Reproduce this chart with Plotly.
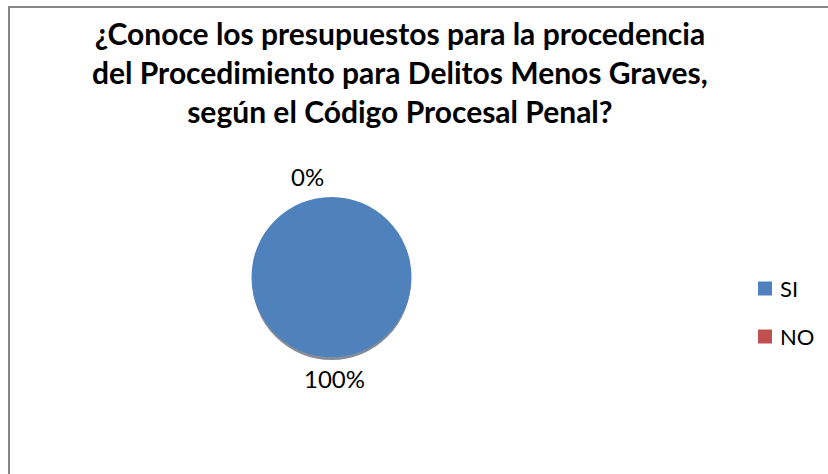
import math
import plotly.graph_objects as go

W, H = 828, 474

title_lines = [
    "¿Conoce los presupuestos para la procedencia",
    "del Procedimiento para Delitos Menos Graves,",
    "según el Código Procesal Penal?",
]
labels = ["SI", "NO"]
values = [100, 0]
colors = ["#4F81BD", "#C0504D"]

FONT = "Lato"

# pie geometry in pixels
cx, cy, r = 331.5, 277, 80


def px(x):
    return x / W


def py(y):
    return 1 - y / H


fig = go.Figure(go.Pie(
    labels=labels,
    values=values,
    marker=dict(colors=colors),
    sort=False,
    direction="clockwise",
    rotation=0,
    textinfo="none",
    hoverinfo="label+percent",
    showlegend=False,
    domain=dict(x=[px(cx - r), px(cx + r)], y=[py(cy + r), py(cy - r)]),
))

# percentage labels outside the pie, at each slice's mid angle
total = sum(values)
cum = 0
annotations = []
for v in values:
    frac = (cum + v / 2) / total
    cum += v
    ang = 2 * math.pi * frac
    d = 104
    x = cx + d * math.sin(ang)
    y = cy - d * math.cos(ang)
    top = math.cos(ang) > 0.99
    annotations.append(dict(
        x=px(x - 6 if top else x + 3), y=py(y + 3 if top else y - 3),
        xref="paper", yref="paper",
        text=f"{round(100 * v / total)}%", showarrow=False,
        xanchor="right" if top else "center", yanchor="middle",
        font=dict(family=FONT, size=24, color="#000000"),
    ))

annotations.append(dict(
    x=px(400), y=py(72.5), xref="paper", yref="paper",
    text="<b>" + "<br>".join(title_lines) + "</b>", showarrow=False,
    xanchor="center", yanchor="middle", align="center",
    font=dict(family=FONT, size=30, color="#000000"),
))

shapes = [
    # chart border
    dict(type="rect", xref="paper", yref="paper",
         x0=px(9), x1=1.05, y0=-0.05, y1=py(7),
         line=dict(color="#868686", width=2), layer="below"),
    # soft shadow under the pie
    dict(type="circle", xref="paper", yref="paper",
         x0=px(cx - r + 0.5), x1=px(cx + r - 0.5),
         y0=py(cy + r + 3), y1=py(cy - r + 3),
         fillcolor="rgba(30,45,70,0.55)", line=dict(width=0), layer="below"),
]

# legend: square + label per category
leg_x, leg_y0, leg_step, sq = 758, 288.5, 48, 14
for i, (lab, col) in enumerate(zip(labels, colors)):
    yc = leg_y0 + i * leg_step
    shapes.append(dict(
        type="rect", xref="paper", yref="paper",
        x0=px(leg_x), x1=px(leg_x + sq), y0=py(yc + sq / 2), y1=py(yc - sq / 2),
        fillcolor=col, line=dict(width=0),
    ))
    annotations.append(dict(
        x=px(leg_x + sq + 6), y=py(yc), xref="paper", yref="paper",
        text=lab, showarrow=False, xanchor="left", yanchor="middle",
        font=dict(family=FONT, size=22, color="#000000"),
    ))

fig.update_layout(
    width=W, height=H,
    margin=dict(l=0, r=0, t=0, b=0),
    paper_bgcolor="white",
    plot_bgcolor="white",
    annotations=annotations,
    shapes=shapes,
)

fig.write_html("out.html", config={"displayModeBar": False},
               post_script="document.body.style.margin='0';")
